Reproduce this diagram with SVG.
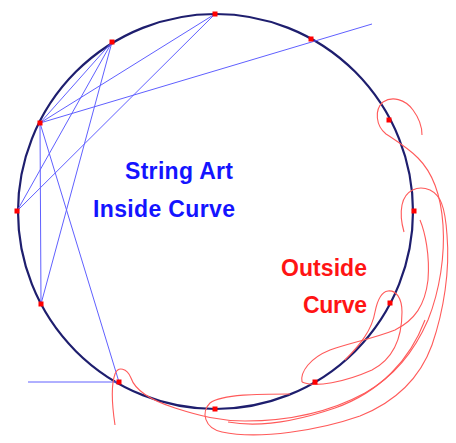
<svg xmlns="http://www.w3.org/2000/svg" width="456" height="443" viewBox="0 0 456 443">
<style>
.circ{fill:none;stroke:#1e1e6e;stroke-width:2.2}
.str{stroke:#6060ff;stroke-width:1;fill:none}
.red{stroke:#ff5a5a;stroke-width:1.1;fill:none}
.dot{fill:#ff0000}
.lbl{font-family:"Liberation Sans",Arial,sans-serif;font-weight:bold;font-size:23px}
</style>
<rect width="456" height="443" fill="#ffffff"/>
<g id="circle"><circle class="circ" cx="215.5" cy="211.5" r="197.5"/></g>
<g id="connectors">
<line class="str" x1="28" y1="382" x2="119" y2="382"/>
<line class="str" x1="119" y1="382" x2="40" y2="123"/>
<line class="str" x1="40" y1="123" x2="41" y2="304"/>
<line class="str" x1="40" y1="123" x2="372" y2="24"/>
<line class="str" x1="40" y1="123" x2="215" y2="14"/>
<line class="str" x1="17" y1="211" x2="215" y2="14"/>
<line class="str" x1="17" y1="211" x2="112" y2="42"/>
<line class="str" x1="112" y1="42" x2="40" y2="123"/>
<line class="str" x1="112" y1="42" x2="41" y2="304"/>
</g>
<g id="outside-curve">
<path class="red" d="M115,425 C112,405 111,385 115,374 C118,366 127,368 131,378 C135,390 150,400 175,408 C200,416 220,421 245,421 C290,421 330,412 365,393 C395,376 415,350 428,320 C440,290 445,255 443,225 C441,195 432,172 418,158 C408,148 395,140 386,134 C376,126 374,110 383,102 C392,96 405,99 413,110 C419,118 422,128 422,135"/>
<path class="red" d="M290,394 C260,394 222,394 210,403 C201,412 204,428 222,432 C260,440 320,430 360,416 C395,402 420,378 432,345 C444,310 450,270 447,235 C445,205 440,195 430,190 C418,185 405,190 402,205 C400,215 402,225 404,232"/>
<path class="red" d="M302,382 C300,372 310,358 330,350 C350,343 375,338 395,330 C415,320 425,305 428,280 C430,255 425,232 420,220"/>
<path class="red" d="M302,382 C315,388 345,382 372,370 C395,358 402,335 402,312 C402,298 396,290 388,291 C380,292 377,302 375,312 C372,330 360,345 345,360"/>
<path class="red" d="M228,422 C260,428 300,420 335,408 C380,392 410,360 425,320"/>
</g>
<g id="nodes">
<rect id="p0" class="dot" x="212.5" y="11.5" width="5" height="5"/>
<rect id="p1" class="dot" x="308.5" y="36.5" width="5" height="5"/>
<rect id="p2" class="dot" x="386.5" y="117.5" width="5" height="5"/>
<rect id="p3" class="dot" x="411.5" y="208.5" width="5" height="5"/>
<rect id="p4" class="dot" x="387.5" y="300.5" width="5" height="5"/>
<rect id="p5" class="dot" x="312.5" y="379.5" width="5" height="5"/>
<rect id="p6" class="dot" x="212.5" y="406.5" width="5" height="5"/>
<rect id="p7" class="dot" x="116.5" y="379.5" width="5" height="5"/>
<rect id="p8" class="dot" x="38.5" y="301.5" width="5" height="5"/>
<rect id="p9" class="dot" x="14.5" y="208.5" width="5" height="5"/>
<rect id="p10" class="dot" x="37.5" y="120.5" width="5" height="5"/>
<rect id="p11" class="dot" x="109.5" y="39.5" width="5" height="5"/>
</g>
<g id="labels">
<text class="lbl" x="125" y="179" fill="#1414ff" textLength="108">String Art</text>
<text class="lbl" x="93" y="217" fill="#1414ff" textLength="142">Inside Curve</text>
<text class="lbl" x="281" y="276" fill="#ff1414" textLength="86">Outside</text>
<text class="lbl" x="303" y="313" fill="#ff1414" textLength="64">Curve</text>
</g>
</svg>
